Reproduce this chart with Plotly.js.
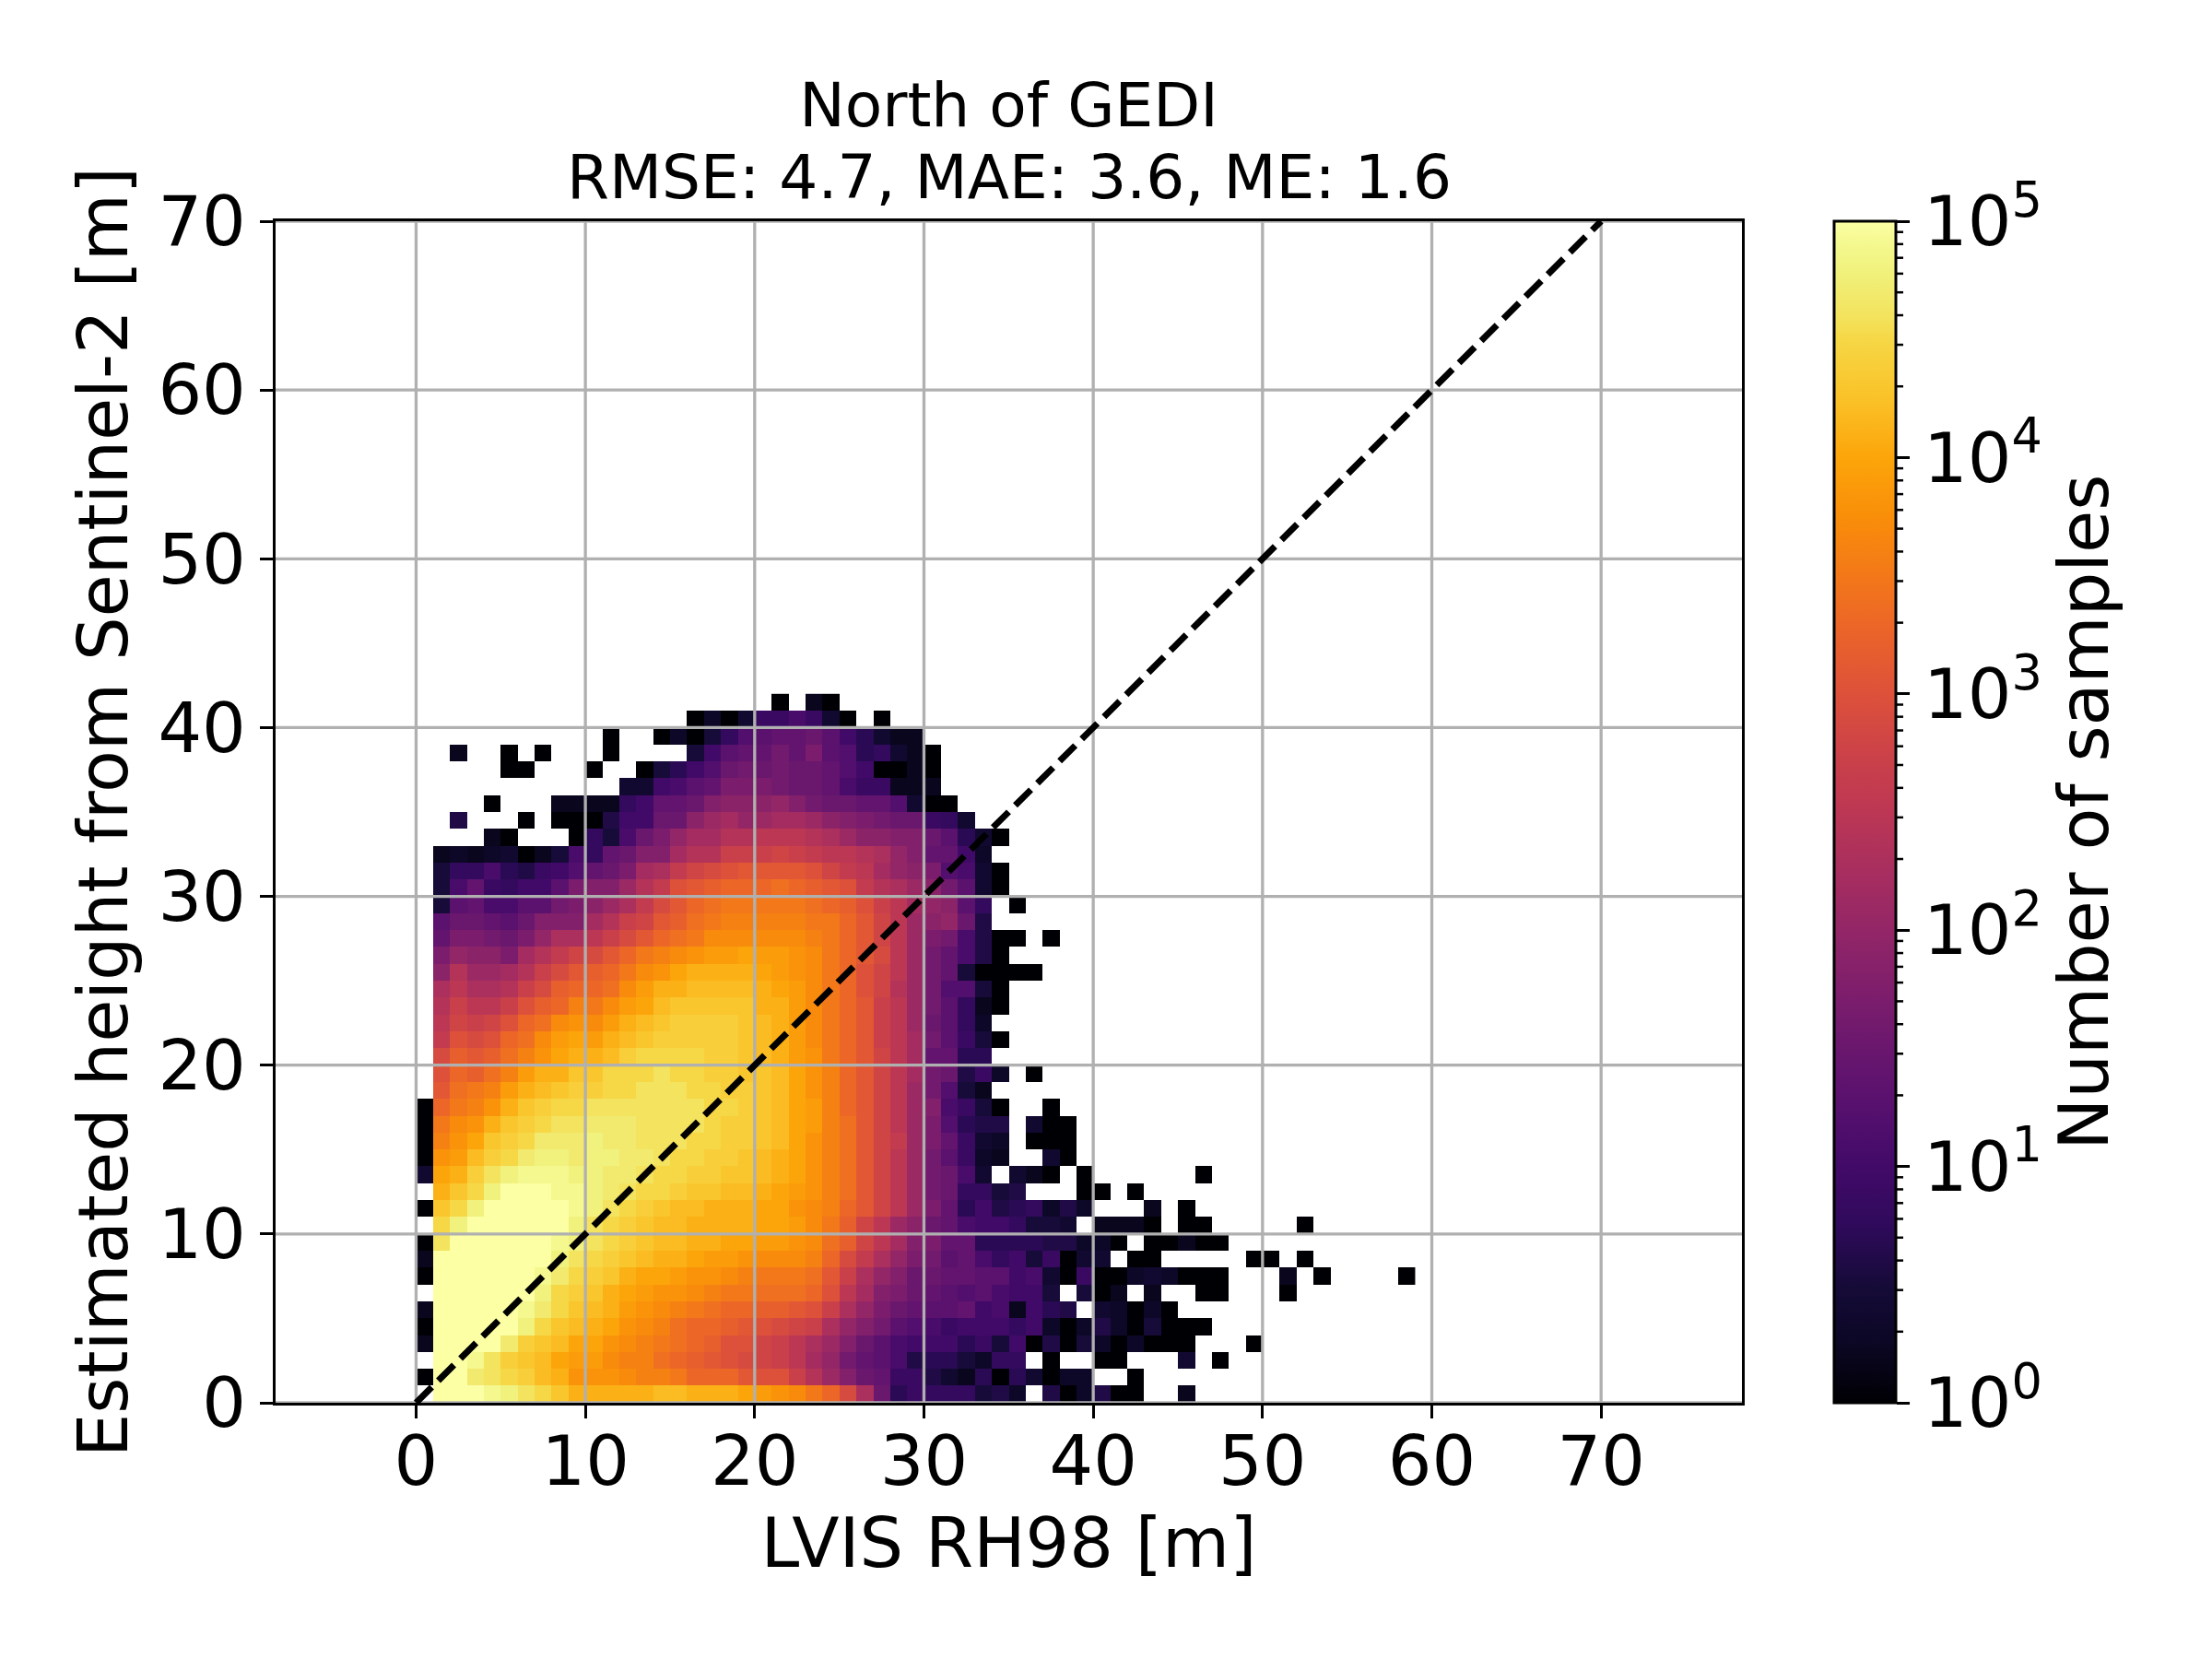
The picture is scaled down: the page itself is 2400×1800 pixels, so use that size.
<!DOCTYPE html>
<html lang="en">
<head>
    <meta charset="UTF-8">
    <title>North of GEDI</title>
    <script src="https://cdn.plot.ly/plotly-3.0.1.min.js"></script>
</head>

<body style="margin:0">
<div id="plot"></div>

<script>

    // cell values: log10(number of samples) x 10. one row per metre of y, from y=0 up
    const _ = null
    const row00 = [_,50,50,50,49,48,46,45,43,41,41,41,41,41,42,42,41,41,41,40,39,38,37,35,33,29,23,15,7,9,8,8,8,5,6,3,_,6,0,3,6,0,0,_,_,2]
    const row01 = [0,50,50,47,46,45,44,42,41,38,38,38,37,36,36,35,33,33,33,31,30,30,27,24,21,18,15,14,9,9,6,4,2,7,0,7,4,0,3,3,_,_,0]
    const row02 = [_,50,50,49,46,44,43,42,40,39,39,37,36,36,34,33,32,31,30,29,28,27,25,22,20,16,14,13,11,6,7,7,5,3,8,8,_,0,_,_,0,0,_,_,_,4,_,0]
    const row03 = [2,50,50,50,50,47,44,43,42,40,40,38,37,36,35,34,33,32,30,30,28,27,25,23,21,18,15,13,11,10,10,10,7,9,5,10,0,6,0,5,3,0,3,0,0,0,_,_,_,0]
    const row04 = [0,50,50,50,50,50,48,45,43,42,41,40,38,37,36,34,33,33,32,31,30,29,28,27,23,20,18,16,13,12,11,9,10,10,10,8,10,3,0,3,6,3,0,5,0,0,0]
    const row05 = [2,50,50,50,50,50,49,47,45,43,42,41,39,38,37,36,35,34,33,33,32,32,31,30,27,23,20,17,15,14,13,13,14,10,11,2,10,7,6,_,4,3,0,3,0]
    const row06 = [_,50,50,50,50,50,50,48,45,44,43,41,40,39,38,38,37,36,35,35,34,34,34,33,30,25,22,18,17,15,14,13,12,13,11,10,10,5,_,5,0,2,_,2,_,_,0,0,_,_,_,0]
    const row07 = [0,50,50,50,50,50,50,49,47,45,44,43,41,40,40,39,38,38,37,36,35,35,35,34,31,27,23,20,18,15,15,14,14,13,13,10,11,4,0,9,0,0,3,4,3,0,0,0,_,_,_,2,_,0,_,_,_,_,0]
    const row08 = [2,50,50,50,50,50,50,50,48,46,45,44,43,42,41,41,40,39,39,38,37,37,37,36,33,29,26,23,20,17,16,13,14,11,8,10,5,9,0,4,4,_,0,0,_,_,_,_,_,0,0,_,0]
    const row09 = [0,46,50,50,50,50,50,50,49,48,46,45,44,43,42,42,41,41,40,40,39,39,38,37,34,32,28,25,22,18,17,14,14,7,7,7,7,6,6,3,3,0,_,0,0,2,0,0]
    const row10 = [_,45,48,50,50,50,50,50,50,48,46,45,44,43,42,42,41,41,41,41,40,40,39,37,35,32,28,25,21,19,15,14,11,10,10,8,5,5,4,_,2,2,2,0,_,0,0,_,_,_,_,_,0]
    const row11 = [0,43,45,48,50,50,50,50,50,49,48,46,45,44,43,42,42,41,41,41,40,40,38,37,36,33,31,28,25,21,17,14,7,10,6,7,8,3,6,3,_,_,_,2,_,0]
    const row12 = [_,41,43,45,48,50,50,50,49,49,48,47,46,45,45,44,43,43,42,42,41,40,39,38,36,34,31,28,25,21,16,15,8,8,5,6,_,_,_,0,0,_,0]
    const row13 = [4,40,41,44,46,48,49,49,49,48,48,47,47,46,45,45,44,44,43,43,42,41,40,38,36,34,31,28,25,21,16,15,11,4,_,4,2,0,_,0,_,_,_,_,_,_,0]
    const row14 = [0,38,39,42,44,45,47,48,48,47,48,48,47,47,46,45,45,44,44,43,42,41,40,38,36,34,31,28,25,21,16,13,9,3,2,_,_,4,0]
    const row15 = [0,36,38,40,43,44,45,47,47,47,48,47,47,46,46,46,45,45,44,44,43,42,40,38,36,34,31,28,26,21,17,14,9,4,3,_,0,0,0]
    const row16 = [0,35,37,38,41,43,44,45,46,46,47,47,47,46,46,46,46,45,44,44,43,42,40,39,36,34,31,28,25,21,17,12,7,6,6,_,4,0,0]
    const row17 = [0,33,35,36,38,41,43,44,45,45,46,46,46,46,46,46,46,45,45,44,43,42,40,39,36,33,31,28,25,21,18,11,9,5,0,_,_,0]
    const row18 = [_,31,34,35,36,39,41,42,43,44,44,45,45,46,46,46,45,45,44,44,43,42,40,38,36,33,31,28,25,21,16,12,5,2]
    const row19 = [_,30,33,32,34,36,39,41,41,43,43,45,45,45,46,45,45,44,44,43,43,42,40,38,36,33,31,28,25,22,16,15,6,9,3,_,0]
    const row20 = [_,29,32,31,32,34,36,38,40,41,41,42,44,45,45,45,45,44,44,43,42,41,39,38,35,33,31,28,25,22,14,14,7,7]
    const row21 = [_,26,30,29,30,33,34,37,39,40,39,41,42,43,44,44,44,44,44,43,42,41,39,37,35,33,31,27,25,22,16,13,9,5,0]
    const row22 = [_,25,28,27,28,30,33,34,37,38,37,39,41,42,43,44,44,44,44,43,42,41,39,37,35,33,31,27,25,21,15,13,8,3]
    const row23 = [_,24,27,25,25,27,30,32,33,36,35,37,39,40,42,43,43,43,43,43,41,41,39,37,35,33,31,27,25,21,16,13,8,2,0]
    const row24 = [_,23,25,23,23,24,27,29,32,33,33,34,37,39,41,41,42,42,42,42,41,40,39,37,35,33,30,28,24,21,16,12,12,5,0]
    const row25 = [_,19,24,21,21,22,24,27,29,31,32,33,35,37,38,40,41,41,41,41,40,39,38,37,35,33,30,28,25,21,16,14,5,0,0,0,0]
    const row26 = [_,17,20,19,19,17,22,24,26,28,29,31,33,35,36,37,38,39,39,40,39,39,38,37,35,33,31,29,25,21,16,14,11,6,0]
    const row27 = [_,14,17,17,16,15,17,20,23,23,25,27,29,31,33,34,35,37,37,37,37,37,37,36,35,33,31,28,25,21,17,16,11,6,0,0,_,0]
    const row28 = [_,13,15,15,14,13,15,18,18,18,22,24,27,28,31,32,34,35,36,36,36,36,36,35,35,33,31,28,25,21,19,20,15,6]
    const row29 = [_,5,13,14,11,11,13,13,16,17,19,21,23,26,29,31,33,34,35,35,35,35,35,34,33,32,30,27,25,22,20,19,13,8,_,0]
    const row30 = [_,5,11,14,9,8,10,10,13,17,18,18,21,24,26,30,31,32,33,33,33,34,33,32,31,30,26,24,23,21,19,16,13,4,0]
    const row31 = [_,5,8,8,11,7,6,9,10,12,14,15,17,22,23,26,28,29,30,31,31,31,31,30,28,26,25,22,20,19,17,12,11,4,0]
    const row32 = [_,2,3,2,3,4,0,2,5,11,8,14,15,18,18,22,24,24,27,27,27,28,27,26,25,25,24,23,20,18,14,14,10,3]
    const row33 = [_,_,_,_,2,0,_,_,_,0,8,5,11,15,17,20,22,22,24,24,25,25,25,24,23,21,19,19,18,18,15,13,7,4,0]
    const row34 = [_,_,6,_,_,_,0,_,0,0,0,6,10,10,15,15,19,21,22,20,21,22,22,21,19,18,17,16,15,15,9,8,4]
    const row35 = [_,_,_,_,0,_,_,_,2,2,2,2,8,10,14,14,15,18,19,19,19,20,18,16,15,15,14,14,12,4,0,0]
    const row36 = [_,_,_,_,_,_,_,_,_,_,_,_,4,4,10,11,13,14,17,17,17,16,15,15,14,11,9,9,2,2,2]
    const row37 = [_,_,_,_,_,0,0,_,_,_,0,_,_,0,5,7,10,12,15,16,15,16,15,15,14,12,10,0,0,2,0]
    const row38 = [_,_,2,_,_,0,_,0,_,_,_,0,_,_,_,_,5,10,13,14,14,16,14,17,13,12,7,8,4,2,0]
    const row39 = [_,_,_,_,_,_,_,_,_,_,_,0,_,_,0,3,0,5,8,12,13,14,14,15,13,10,7,4,2,2]
    const row40 = [_,_,_,_,_,_,_,_,_,_,_,_,_,_,_,_,0,3,0,4,9,9,11,9,4,0,_,0]
    const row41 = [_,_,_,_,_,_,_,_,_,_,_,_,_,_,_,_,_,_,_,_,_,0,_,2,0]

    const rows = [row00, row01, row02, row03, row04, row05, row06, row07, row08, row09, row10,
        row11, row12, row13, row14, row15, row16, row17, row18, row19, row20,
        row21, row22, row23, row24, row25, row26, row27, row28, row29, row30,
        row31, row32, row33, row34, row35, row36, row37, row38, row39, row40, row41]

    const gridTicks = [0, 10, 20, 30, 40, 50, 60, 70]
    const diagonal = [0, 70]
    const cbarTicks = [0, 1, 2, 3, 4, 5]
    const cbarLabels = ['10<sup>0</sup>', '10<sup>1</sup>', '10<sup>2</sup>', '10<sup>3</sup>', '10<sup>4</sup>', '10<sup>5</sup>']
    const cbarMinor = [2, 3, 4, 5, 6, 7, 8, 9]

    const inferno = [
        [0, '#000004'], [0.05, '#0b0724'], [0.1, '#160b39'], [0.15, '#2f0a5b'], [0.2, '#420a68'], [0.25, '#57106e'],
        [0.3, '#6a176e'], [0.35, '#7f1e6c'], [0.4, '#932667'], [0.45, '#a82e5f'], [0.5, '#bc3754'], [0.55, '#cc4248'],
        [0.6, '#dd513a'], [0.65, '#ea632a'], [0.7, '#f37819'], [0.75, '#f98e09'], [0.8, '#fca50a'], [0.85, '#fac228'],
        [0.9, '#f6d746'], [0.92, '#f3e35e'], [0.955, '#f0f07a'], [0.98, '#f4f88e'], [1, '#fcffa4']
    ]

    const font = 'DejaVu Sans'
    const nCols = 59
    const z = rows.map(r => {
        const out = []
        for (let i = 0; i < nCols; i++) out.push(r[i] === undefined || r[i] === null ? null : r[i] / 10)
        return out
    })

    const hist = {
        type: 'heatmap',
        z: z,
        x0: 0.5, dx: 1,
        y0: 0.5, dy: 1,
        zmin: 0, zmax: 5,
        colorscale: inferno,
        hoverongaps: false,
        colorbar: {
            x: 1.0629, xanchor: 'left', xpad: 0,
            y: 0.5, yanchor: 'middle', ypad: 0,
            len: 1, lenmode: 'fraction',
            thickness: 67, thicknessmode: 'pixels',
            outlinewidth: 3, outlinecolor: 'black',
            ticks: 'outside', ticklen: 14, tickwidth: 3, tickcolor: 'black',
            tickmode: 'array', tickvals: cbarTicks, ticktext: cbarLabels,
            tickfont: { family: font, size: 75, color: 'black' }
        }
    }

    const xRange = [-8.30, 78.32]
    const yRange = [0, 70]

    // matplotlib puts the grid over the image, plotly keeps axis grids under the heatmap
    const gx = [], gy = []
    gridTicks.forEach(t => { gx.push(t, t, null); gy.push(yRange[0], yRange[1], null) })
    gridTicks.forEach(t => { gx.push(xRange[0], xRange[1], null); gy.push(t, t, null) })
    const grid = {
        type: 'scatter', mode: 'lines', x: gx, y: gy,
        line: { color: '#b0b0b0', width: 3.3 },
        hoverinfo: 'skip', showlegend: false
    }

    const oneToOne = {
        type: 'scatter', mode: 'lines', x: diagonal, y: diagonal,
        line: { color: 'black', width: 7, dash: '24px,10px' },
        hoverinfo: 'skip', showlegend: false
    }

    // minor ticks of the colorbar
    const shapes = []
    cbarTicks.slice(0, 5).forEach(k => {
        cbarMinor.forEach(m => {
            const yy = (k + Math.log10(m)) / 5
            shapes.push({
                type: 'line', xref: 'paper', yref: 'paper',
                x0: 1.1050, x1: 1.1100, y0: yy, y1: yy,
                line: { color: 'black', width: 2.5 }
            })
        })
    })

    const axisBase = {
        showgrid: false, zeroline: false,
        showline: true, mirror: true, linecolor: 'black', linewidth: 3.3,
        ticks: 'outside', ticklen: 14, tickwidth: 3.3, tickcolor: 'black',
        tickmode: 'array', tickvals: gridTicks,
        tickfont: { family: font, size: 75, color: 'black' }
    }

    const layout = {
        width: 2400, height: 1800,
        margin: { l: 299, r: 510, t: 239.5, b: 277.5, pad: 0 },
        paper_bgcolor: 'white', plot_bgcolor: 'white',
        font: { family: font, color: 'black' },
        title: {
            text: 'North of GEDI',
            font: { family: font, size: 66.2, color: 'black' },
            x: 0.5, xref: 'paper', xanchor: 'center',
            y: 0.9365, yref: 'container', yanchor: 'middle'
        },
        xaxis: Object.assign({}, axisBase, {
            range: xRange,
            ticklabelstandoff: -18,
            title: { text: 'LVIS RH98 [m]', font: { family: font, size: 75, color: 'black' }, standoff: 20 }
        }),
        yaxis: Object.assign({}, axisBase, {
            range: yRange,
            title: { text: 'Estimated height from Sentinel-2 [m]', font: { family: font, size: 75, color: 'black' }, standoff: 9 }
        }),
        shapes: shapes,
        annotations: [{
            text: 'RMSE: 4.7, MAE: 3.6, ME: 1.6',
            xref: 'paper', yref: 'paper', x: 0.5, y: 1.0374,
            xanchor: 'center', yanchor: 'middle', showarrow: false,
            font: { family: font, size: 66.2, color: 'black' }
        }, {
            text: 'Number of samples', textangle: -90,
            xref: 'paper', yref: 'paper', x: 1.233, y: 0.5,
            xanchor: 'center', yanchor: 'middle', showarrow: false,
            font: { family: font, size: 75, color: 'black' }
        }]
    }

    Plotly.newPlot('plot', [hist, grid, oneToOne], layout, { displayModeBar: false })

</script>

</body>
</html>
